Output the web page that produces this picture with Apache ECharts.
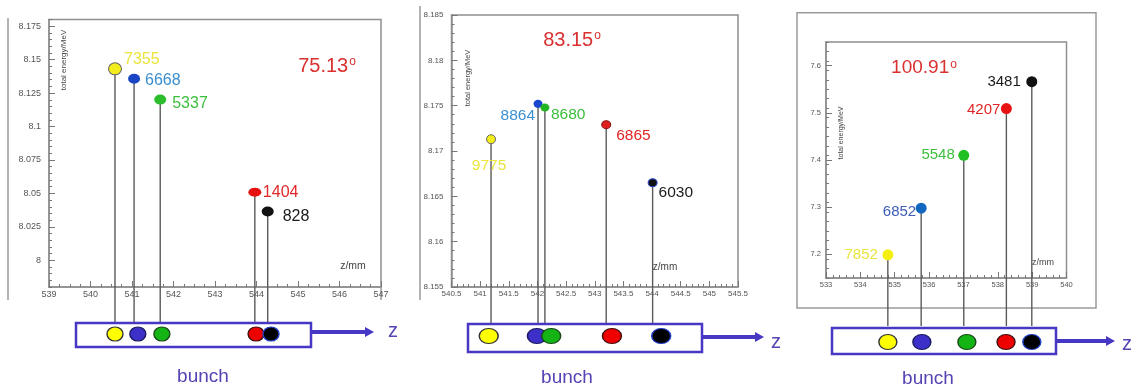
<!DOCTYPE html>
<html><head><meta charset="utf-8">
<script src="https://cdn.jsdelivr.net/npm/echarts@6/dist/echarts.min.js"></script>
<style>html,body{margin:0;padding:0;background:#fff}#c{width:1132px;height:392px}</style>
</head><body><div id="c"></div>
<script>
// ---------- DATA ----------
// Panel 1 : 75.13°
const p1Angle = '75.13';
const p1Z = [540.59, 541.05, 541.68, 543.96, 544.27];
const p1E = [8.1431, 8.1357, 8.1201, 8.0509, 8.0365];
const p1N = [7355, 6668, 5337, 1404, 828];
const p1Bunch = [540.59, 541.14, 541.72, 543.99, 544.35];
const p1XTicks = [539, 540, 541, 542, 543, 544, 545, 546, 547];
const p1YTicks = [8, 8.025, 8.05, 8.075, 8.1, 8.125, 8.15, 8.175];
// Panel 2 : 83.15°
const p2Angle = '83.15';
const p2Z = [541.19, 542.01, 542.13, 543.20, 544.01];
const p2E = [8.1713, 8.1752, 8.1748, 8.1729, 8.1665];
const p2N = [9775, 8864, 8680, 6865, 6030];
const p2Bunch = [541.15, 541.99, 542.24, 543.30, 544.16];
const p2XTicks = [540.5, 541, 541.5, 542, 542.5, 543, 543.5, 544, 544.5, 545, 545.5];
const p2YTicks = [8.155, 8.16, 8.165, 8.17, 8.175, 8.18, 8.185];
// Panel 3 : 100.91°
const p3Angle = '100.91';
const p3Z = [534.80, 535.77, 537.01, 538.25, 538.99];
const p3E = [7.199, 7.298, 7.410, 7.509, 7.566];
const p3N = [7852, 6852, 5548, 4207, 3481];
const p3Bunch = [534.80, 535.79, 537.10, 538.24, 538.99];
const p3XTicks = [533, 534, 535, 536, 537, 538, 539, 540];
const p3YTicks = [7.2, 7.3, 7.4, 7.5, 7.6];

const axisTitleY = 'total energy/MeV';
const axisTitleX = 'z/mm';
const bunchText = 'bunch';
const zText = 'z';

// ---------- STYLE / LAYOUT ----------
const FONT = '"Liberation Sans", Arial, Helvetica, sans-serif';
const FRAME = '#8f8f8f';
const TICKC = '#777';
const BUNCHC = '#4637c4';
const TEXTB = '#5444b4';

const panels = [
  {z:p1Z, e:p1E, n:p1N, b:p1Bunch, ang:p1Angle, xt:p1XTicks, yt:p1YTicks,
   grid:{left:49, top:19.5, width:332, height:267.5},
   x:{min:539, max:547, minor:0.25}, y:{min:7.98, max:8.18, minor:0.005},
   tickFont:9, yMargin:8, xMargin:3,
   pc:['#f3ed1c','#1a46c6','#2cbd2c','#e61212','#111'],
   lc:['#ebe43c','#3b8ecf','#3cbf3c','#e02626','#1a1a1a'],
   sym:[[13,12],[12,10],[12,10],[13,9],[12,10]], pborder:['#666',null,null,null,null],
   labFont:16,
   lab:[[9,-9,'left'],[11,2,'left'],[12,4,'left'],[8,0,'left'],[15,5,'left']],
   title:[327,66,20], lineEnd:323,
   box:[76,323,235,24], bunchY:334, bsym:[16,14],
   arrow:[311,374,332], zPos:[393,331], bunchPos:[203,377],
   yName:[64,60,8], xName:[353,266,10.5], sideLine:[8,18,300], rightExt:[381,287,300]},
  {z:p2Z, e:p2E, n:p2N, b:p2Bunch, ang:p2Angle, xt:p2XTicks, yt:p2YTicks,
   grid:{left:451.5, top:15, width:286.5, height:272},
   x:{min:540.5, max:545.5, minor:0.1}, y:{min:8.155, max:8.185, minor:0.001},
   tickFont:8, yMargin:8, xMargin:3,
   pc:['#f3ed1c','#1a46d0','#22b422','#e02020','#111'],
   lc:['#ebe43c','#3b8ecf','#3cbf3c','#e02626','#1a1a1a'],
   sym:[[9,9],[9,8],[9,8],[9,8],[9,8]], pborder:['#666',null,null,'#8a1010','#2844c8'],
   labFont:15.5,
   lab:[[-2,27,'center'],[-3,12,'right'],[6,7,'left'],[10,11,'left'],[6,10,'left']],
   title:[572,40,20], lineEnd:324,
   box:[468,324,234,28], bunchY:336, bsym:[19,15],
   arrow:[702,764,337], zPos:[776,342], bunchPos:[567,378],
   yName:[468,78,7.5], xName:[665,267,10], sideLine:[420,6,300]},
  {z:p3Z, e:p3E, n:p3N, b:p3Bunch, ang:p3Angle, xt:p3XTicks, yt:p3YTicks,
   grid:{left:826, top:42, width:240.5, height:236},
   x:{min:533, max:540, minor:0.2}, y:{min:7.15, max:7.65, minor:0.02},
   tickFont:7.5, yMargin:5, xMargin:3,
   pc:['#f5ef10','#1268c0','#22c022','#e81212','#111'],
   lc:['#ebe43c','#3d5cb8','#3cbf3c','#e02626','#1a1a1a'],
   sym:[[11,11],[11,11],[11,11],[11,11],[11,11]], pborder:[null,null,null,null,null],
   labFont:15,
   lab:[[-10,0,'right'],[-5,4,'right'],[-9,0,'right'],[-6,1,'right'],[-11,0,'right']],
   title:[924,68,19], lineEnd:326,
   box:[832,328,224,26], bunchY:342, bsym:[18,15],
   arrow:[1056,1115,341], zPos:[1127,344], bunchPos:[928,379],
   yName:[841.5,133,7], xName:[1043,263,9], sideLine:null,
   outer:[797,12.7,299,295.3]}
];
const bunchFill = ['#ffff00','#3c30c8','#14b414','#ee0000','#000000'];
const bunchBorder = ['#333','#1a1a60','#1a4a1a','#401010','#2040c8'];

const grids = [], xAxes = [], yAxes = [], series = [], graphics = [];

panels.forEach((P, pi) => {
  const g = grids.length;
  grids.push(Object.assign({show:true, borderColor:FRAME, borderWidth:1.5, backgroundColor:'transparent'}, P.grid));
  const xi = xAxes.length, yi = yAxes.length;
  xAxes.push({type:'value', gridIndex:g, position:'bottom', min:P.x.min, max:P.x.max,
    axisLine:{show:true, lineStyle:{color:FRAME, width:1.5}},
    axisTick:{show:true, inside:true, length:6, customValues:P.xt, lineStyle:{color:TICKC, width:1}},
    axisLabel:{show:true, customValues:P.xt, fontSize:P.tickFont, color:'#555', fontFamily:FONT, margin:P.xMargin,
      showMinLabel:true, showMaxLabel:true},
    splitLine:{show:false}});
  xAxes.push({type:'value', gridIndex:g, position:'bottom', min:P.x.min, max:P.x.max, interval:P.x.minor,
    axisLine:{show:false}, axisTick:{show:true, inside:true, length:3, lineStyle:{color:TICKC, width:1}},
    axisLabel:{show:false}, splitLine:{show:false}});
  yAxes.push({type:'value', gridIndex:g, position:'left', min:P.y.min, max:P.y.max,
    axisLine:{show:true, lineStyle:{color:FRAME, width:1.5}},
    axisTick:{show:true, inside:true, length:6, customValues:P.yt, lineStyle:{color:TICKC, width:1}},
    axisLabel:{show:true, customValues:P.yt, fontSize:P.tickFont, color:'#555', fontFamily:FONT, margin:P.yMargin},
    splitLine:{show:false}});
  yAxes.push({type:'value', gridIndex:g, position:'left', min:P.y.min, max:P.y.max, interval:P.y.minor,
    axisLine:{show:false}, axisTick:{show:true, inside:true, length:3, lineStyle:{color:TICKC, width:1}},
    axisLabel:{show:false}, splitLine:{show:false}});

  series.push({type:'custom', xAxisIndex:xi, yAxisIndex:yi, clip:false, silent:true, z:1,
    data:P.z.map((v,i)=>[v, P.e[i]]),
    renderItem:(params, api) => {
      const p = api.coord([api.value(0), api.value(1)]);
      return {type:'line', shape:{x1:p[0], y1:p[1], x2:p[0], y2:P.lineEnd},
        style:{stroke:'#5a5a5a', lineWidth:1.4}};
    }});
  series.push({type:'scatter', xAxisIndex:xi, yAxisIndex:yi, z:3, clip:false,
    data:P.z.map((v,i)=>({
      value:[v, P.e[i]],
      symbolSize:P.sym[i],
      itemStyle:{color:P.pc[i], borderColor:P.pborder[i]||P.pc[i], borderWidth:P.pborder[i]?1:0, opacity:1},
      label:{show:true, position:'inside', formatter:String(P.n[i]), align:P.lab[i][2], verticalAlign:'middle',
        offset:[P.lab[i][0], P.lab[i][1]], color:P.lc[i], fontSize:P.labFont, fontFamily:FONT}
    }))});

  const bg = grids.length;
  grids.push({show:false, left:P.grid.left, width:P.grid.width, top:P.bunchY-8, height:16});
  const bxi = xAxes.length, byi = yAxes.length;
  xAxes.push({type:'value', gridIndex:bg, min:P.x.min, max:P.x.max, show:false});
  yAxes.push({type:'value', gridIndex:bg, min:0, max:1, show:false});
  series.push({type:'scatter', xAxisIndex:bxi, yAxisIndex:byi, z:4, clip:false,
    data:P.b.map((v,i)=>({value:[v, 0.5], symbolSize:P.bsym,
      itemStyle:{color:bunchFill[i], borderColor:bunchBorder[i], borderWidth:1.3, opacity:1}}))});

  graphics.push({type:'rect', shape:{x:P.box[0], y:P.box[1], width:P.box[2], height:P.box[3]},
    style:{fill:'#fff', stroke:BUNCHC, lineWidth:2.5}, z:2});
  graphics.push({type:'line', shape:{x1:P.arrow[0], y1:P.arrow[2], x2:P.arrow[1]-8, y2:P.arrow[2]},
    style:{stroke:BUNCHC, lineWidth:4}});
  graphics.push({type:'polygon', shape:{points:[[P.arrow[1]-9,P.arrow[2]-5],[P.arrow[1],P.arrow[2]],[P.arrow[1]-9,P.arrow[2]+5]]},
    style:{fill:BUNCHC}});
  graphics.push({type:'text', x:P.zPos[0], y:P.zPos[1], style:{text:zText, fill:TEXTB, fontSize:20, fontFamily:FONT,
    align:'center', verticalAlign:'middle'}});
  graphics.push({type:'text', x:P.bunchPos[0], y:P.bunchPos[1], style:{text:bunchText, fill:TEXTB, fontSize:19, fontFamily:FONT,
    align:'center', verticalAlign:'middle'}});
  graphics.push({type:'text', x:P.title[0], y:P.title[1],
    style:{text:'{n|'+P.ang+'}{o|o}', fill:'#d93030', align:'center', verticalAlign:'middle',
      rich:{n:{fontSize:P.title[2], fontFamily:FONT, fill:'#d93030', verticalAlign:'bottom'},
            o:{fontSize:Math.round(P.title[2]*0.62), fontFamily:FONT, fill:'#d93030', verticalAlign:'top', padding:[0,0,0,1]}}}});
  graphics.push({type:'text', x:P.yName[0], y:P.yName[1], rotation:Math.PI/2,
    style:{text:axisTitleY, fill:'#444', fontSize:P.yName[2], fontFamily:FONT, align:'center', verticalAlign:'middle'}});
  graphics.push({type:'text', x:P.xName[0], y:P.xName[1],
    style:{text:axisTitleX, fill:'#444', fontSize:P.xName[2], fontFamily:FONT, align:'center', verticalAlign:'middle'}});
  if (P.sideLine) graphics.push({type:'line', shape:{x1:P.sideLine[0], y1:P.sideLine[1], x2:P.sideLine[0], y2:P.sideLine[2]},
    style:{stroke:'#9a9a9a', lineWidth:1.5}});
  if (P.rightExt) graphics.push({type:'line', shape:{x1:P.rightExt[0], y1:P.rightExt[1], x2:P.rightExt[0], y2:P.rightExt[2]},
    style:{stroke:'#9a9a9a', lineWidth:1.5}});
  if (P.outer) graphics.push({type:'rect', shape:{x:P.outer[0], y:P.outer[1], width:P.outer[2], height:P.outer[3]},
    style:{fill:'none', stroke:'#9a9a9a', lineWidth:1.5}, z:-1});
});

const chart = echarts.init(document.getElementById('c'), null, {renderer:'canvas'});
chart.setOption({
  backgroundColor:'#fff',
  animation:false,
  grid:grids, xAxis:xAxes, yAxis:yAxes, series:series,
  graphic:{elements:graphics}
});
</script>
</body></html>
